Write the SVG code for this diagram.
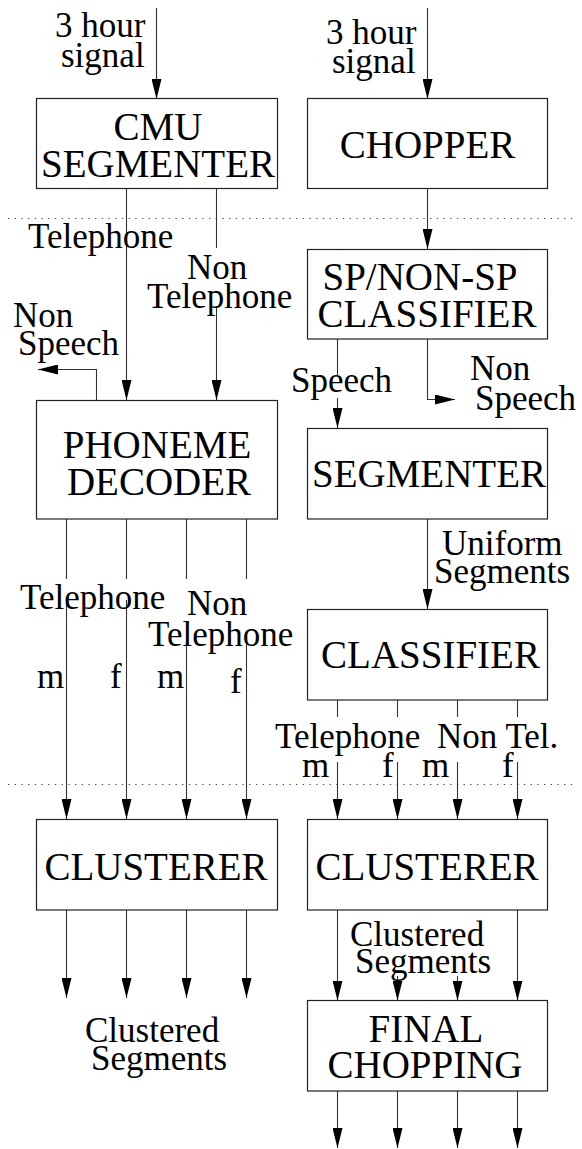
<svg xmlns="http://www.w3.org/2000/svg" width="582" height="1149" viewBox="0 0 582 1149">
  <style>
    .box { fill: #fff; stroke: #222; stroke-width: 1.2; }
    .wire { fill: none; stroke: #333; stroke-width: 1.1; }
    .arr { fill: none; stroke: #333; stroke-width: 1.1; marker-end: url(#ah); }
    .sep { stroke: #444; stroke-width: 1; stroke-dasharray: 1.3 5.4; }
    .big { font-size: 39px; fill: #000; text-anchor: middle; }
    .lbl { font-size: 35px; fill: #000; }
  </style>
  <defs>
    <marker id="ah" viewBox="0 0 20 10" markerWidth="20" markerHeight="10" refX="20" refY="5" orient="auto" markerUnits="userSpaceOnUse">
      <path d="M0,0 L20,5 L0,10 z" fill="#000"/>
    </marker>
  </defs>

  <!-- stage separators -->
  <g id="separators">
    <line class="sep" x1="8" y1="218.5" x2="576" y2="218.5"/>
    <line class="sep" x1="8" y1="784.5" x2="576" y2="784.5"/>
  </g>

  <!-- connectors -->
  <g id="connectors">
    <!-- left pipeline -->
    <path class="arr" d="M156.5,8 V99"/>
    <path class="arr" d="M126.5,189 V400"/>
    <path class="wire" d="M216.5,189 V248"/>
    <path class="arr" d="M216.5,306 V400"/>
    <path class="arr" d="M96.5,400 V369.5 H38"/>
    <path class="wire" d="M66.5,519 V579 M126.5,519 V579 M186.5,519 V579 M246.5,519 V579"/>
    <path class="arr" d="M66.5,598 V819"/>
    <path class="arr" d="M126.5,600 V819"/>
    <path class="arr" d="M186.5,643 V819"/>
    <path class="arr" d="M246.5,643 V819"/>
    <path class="arr" d="M66.5,910 V998"/>
    <path class="arr" d="M126.5,910 V998"/>
    <path class="arr" d="M186.5,910 V998"/>
    <path class="arr" d="M246.5,910 V998"/>

    <!-- right pipeline -->
    <path class="arr" d="M427.5,8 V99"/>
    <path class="arr" d="M427.5,189 V249"/>
    <path class="wire" d="M337.5,339 V375"/>
    <path class="arr" d="M337.5,398 V428"/>
    <path class="arr" d="M427.5,339 V399.5 H455"/>
    <path class="arr" d="M427.5,519 V609"/>
    <path class="wire" d="M337.5,700 V717 M397.5,700 V717 M457.5,700 V717 M517.5,700 V717"/>
    <path class="arr" d="M337.5,762 V819"/>
    <path class="arr" d="M397.5,762 V819"/>
    <path class="arr" d="M457.5,762 V819"/>
    <path class="arr" d="M517.5,762 V819"/>
    <path class="arr" d="M337.5,910 V1000.5"/>
    <path class="arr" d="M397.5,976 V1000.5"/>
    <path class="arr" d="M457.5,976 V1000.5"/>
    <path class="arr" d="M517.5,910 V1000.5"/>
    <path class="arr" d="M337.5,1091 V1148"/>
    <path class="arr" d="M397.5,1091 V1148"/>
    <path class="arr" d="M457.5,1091 V1148"/>
    <path class="arr" d="M517.5,1091 V1148"/>
  </g>

  <g font-family="Liberation Serif, Tinos, Times New Roman, Nimbus Roman, DejaVu Serif, serif">
  <!-- edge labels -->
  <g id="labels">
    <text class="lbl" x="55" y="37">3 hour</text>
    <text class="lbl" x="61" y="67">signal</text>
    <text class="lbl" x="326" y="43.5">3 hour</text>
    <text class="lbl" x="332" y="73">signal</text>

    <text class="lbl" x="28" y="248">Telephone</text>
    <text class="lbl" x="187" y="279">Non</text>
    <text class="lbl" x="147" y="308">Telephone</text>
    <text class="lbl" x="13" y="327">Non</text>
    <text class="lbl" x="18" y="355">Speech</text>

    <text class="lbl" x="291" y="392">Speech</text>
    <text class="lbl" x="470" y="380">Non</text>
    <text class="lbl" x="475" y="410">Speech</text>

    <text class="lbl" x="20" y="609">Telephone</text>
    <text class="lbl" x="187" y="615">Non</text>
    <text class="lbl" x="148" y="646">Telephone</text>
    <text class="lbl" x="37" y="688">m</text>
    <text class="lbl" x="110" y="688">f</text>
    <text class="lbl" x="157" y="688">m</text>
    <text class="lbl" x="230" y="693">f</text>

    <text class="lbl" x="442" y="555">Uniform</text>
    <text class="lbl" x="434" y="583">Segments</text>

    <text class="lbl" x="275" y="748">Telephone</text>
    <text class="lbl" x="437" y="748">Non Tel.</text>
    <text class="lbl" x="302" y="777">m</text>
    <text class="lbl" x="382" y="777">f</text>
    <text class="lbl" x="422" y="777">m</text>
    <text class="lbl" x="502" y="777">f</text>

    <text class="lbl" x="85" y="1042">Clustered</text>
    <text class="lbl" x="91" y="1070">Segments</text>
    <text class="lbl" x="350" y="946">Clustered</text>
    <text class="lbl" x="355" y="973">Segments</text>
  </g>

  <!-- processing blocks -->
  <g id="cmu-segmenter">
    <rect class="box" x="36.5" y="98.5" width="241" height="90"/>
    <text class="big" x="158" y="140">CMU</text>
    <text class="big" x="158" y="177">SEGMENTER</text>
  </g>
  <g id="phoneme-decoder">
    <rect class="box" x="36.5" y="400.5" width="241" height="118.5"/>
    <text class="big" x="157" y="458">PHONEME</text>
    <text class="big" x="159" y="495">DECODER</text>
  </g>
  <g id="clusterer-left">
    <rect class="box" x="36.5" y="819.5" width="241" height="90.5"/>
    <text class="big" x="156" y="880">CLUSTERER</text>
  </g>

  <g id="chopper">
    <rect class="box" x="307.5" y="98.5" width="240" height="90"/>
    <text class="big" x="427.5" y="158">CHOPPER</text>
  </g>
  <g id="sp-classifier">
    <rect class="box" x="307.5" y="249.5" width="240" height="89.5"/>
    <text class="big" x="420" y="290">SP/NON-SP</text>
    <text class="big" x="427" y="327">CLASSIFIER</text>
  </g>
  <g id="segmenter">
    <rect class="box" x="307.5" y="428.5" width="240" height="90.5"/>
    <text class="big" x="429" y="487">SEGMENTER</text>
  </g>
  <g id="classifier">
    <rect class="box" x="307.5" y="609.5" width="240" height="90.5"/>
    <text class="big" x="430.5" y="668">CLASSIFIER</text>
  </g>
  <g id="clusterer-right">
    <rect class="box" x="307.5" y="819.5" width="240" height="90.5"/>
    <text class="big" x="427" y="880">CLUSTERER</text>
  </g>
  <g id="final-chopping">
    <rect class="box" x="307.5" y="1000.5" width="240" height="90.5"/>
    <text class="big" x="426" y="1042">FINAL</text>
    <text class="big" x="425" y="1078">CHOPPING</text>
  </g>
  </g>
</svg>
